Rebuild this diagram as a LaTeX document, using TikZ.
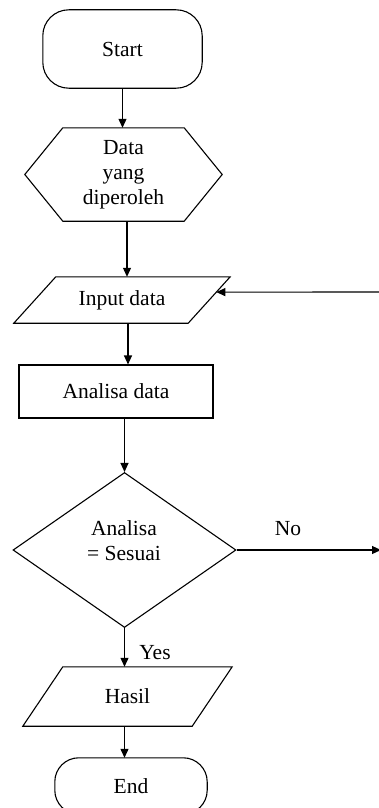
\documentclass[tikz,border=0pt]{standalone}
\usepackage{fontspec}
\setmainfont{Liberation Serif}
\usetikzlibrary{arrows.meta,calc,shapes.geometric}
\tikzset{
  base/.style={inner sep=0pt, font=\fontsize{21.5}{25}\selectfont, align=center},
  outline/.style={line width=1.1pt},
  arr/.style={-{Triangle[length=9pt,width=8pt]}, line width=1.1pt}
}
\begin{document}
\begin{tikzpicture}[x=1pt,y=-1pt]
\fill[white] (0,0) rectangle (379,808);
\useasboundingbox (0,0) rectangle (379,808);

% Start
\node[base, minimum width=159pt, minimum height=78pt] (start) at (122.5,49) {Start};
\draw[outline, rounded corners=26pt] (start.north west) rectangle (start.south east);

% Hexagon
\node[base, minimum width=197pt, minimum height=93pt] (hex) at (123.5,174.5) {Data\\yang\\diperoleh};
\draw[outline] ($(hex.north west)+(38,0)$) -- ($(hex.north east)-(38,0)$) -- (hex.east)
  -- ($(hex.south east)-(38,0)$) -- ($(hex.south west)+(38,0)$) -- (hex.west) -- cycle;

% Input data
\node[base, minimum width=216pt, minimum height=46pt] (inp) at (122,300) {Input data};
\draw[outline] ($(inp.north west)+(42,0)$) -- (inp.north east) -- ($(inp.south east)-(42,0)$)
  -- (inp.south west) -- cycle;

% Analisa data
\node[base, draw, line width=1.1pt, minimum width=194pt, minimum height=53pt] (ana) at (116,391.5) {Analisa data};

% Decision
\node[diamond, draw, line width=1.1pt, inner sep=0pt, minimum width=223pt, minimum height=155pt] (dec) at (124.5,550) {};
\node[base] (dect) at (124,540.5) {Analisa\\= Sesuai};

% Hasil
\node[base, minimum width=209pt, minimum height=59pt] (has) at (127.5,696.5) {Hasil};
\draw[outline] ($(has.north west)+(40,0)$) -- (has.north east) -- ($(has.south east)-(40,0)$)
  -- (has.south west) -- cycle;

% End
\node[base, minimum width=152pt, minimum height=56pt] (fin) at (131,786) {End};
\draw[outline, rounded corners=24pt] (fin.north west) rectangle (fin.south east);

% Labels
\node[base] (nolab) at (288,529) {No};
\node[base] (yeslab) at (155,653) {Yes};

% Connectors
\draw[arr] (start.south) -- (start.south |- hex.north);
\draw[arr] ([xshift=3.5pt]hex.south) -- ([xshift=3.5pt]hex.south |- inp.north);
\draw[arr] ([xshift=6pt]inp.south) -- ([xshift=6pt]inp.south |- ana.north);
\draw[arr] (dec.north |- ana.south) -- (dec.north);
\draw[arr] (dec.south) -- (dec.south |- has.north);
\draw[arr] (dec.south |- has.south) -- (dec.south |- fin.north);

\coordinate (noend) at (381,550);
\draw[arr] (dec.east) -- (noend);

\coordinate (fbstart) at (381,292);
\coordinate (fbend) at ($(inp.north east)!0.33!($(inp.south east)-(42,0)$)$);
\draw[arr] (fbstart) -- (fbend);
\end{tikzpicture}
\end{document}
